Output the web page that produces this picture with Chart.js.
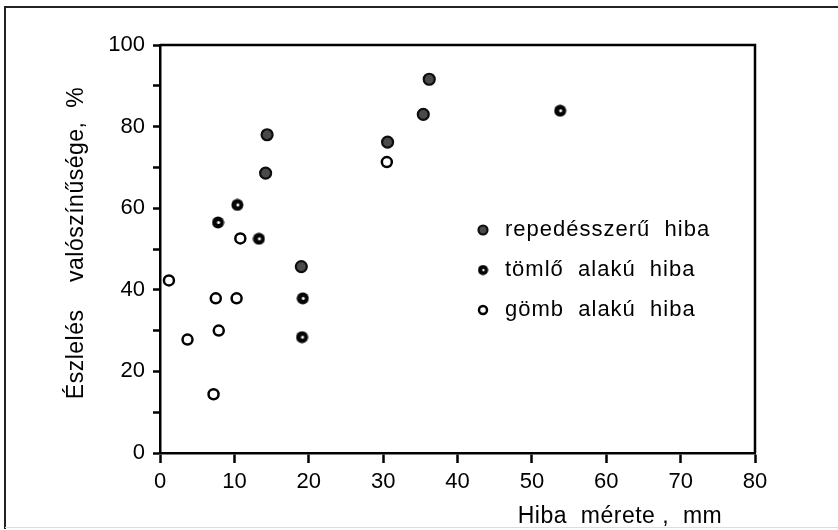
<!DOCTYPE html>
<html>
<head>
<meta charset="utf-8">
<script src="https://cdn.jsdelivr.net/npm/chart.js@4.4.1/dist/chart.umd.min.js"></script>
<style>
  html, body { margin: 0; padding: 0; background: #ffffff; }
  #wrap { width: 838px; height: 530px; position: relative; }
</style>
</head>
<body>
<div id="wrap"><canvas id="c" width="838" height="530"></canvas></div>
<script>
// ---- data ----
const seriesNames = ['repedésszerű  hiba', 'tömlő  alakú  hiba', 'gömb  alakú  hiba'];
const crackX  = [14.2, 14.4, 19.0, 30.6, 35.4, 36.2];
const crackY  = [68.6, 78.0, 45.7, 76.2, 83.0, 91.6];
const tubeX   = [7.8, 10.4, 13.3, 19.2, 19.1, 53.8];
const tubeY   = [56.5, 60.8, 52.5, 37.9, 28.4, 83.9];
const sphereX = [1.2, 3.7, 7.2, 7.5, 7.9, 10.3, 10.8, 30.5];
const sphereY = [42.3, 27.8, 14.4, 37.9, 30.0, 37.9, 52.6, 71.3];
const xTickValues = [0, 10, 20, 30, 40, 50, 60, 70, 80];
const yLabelValues = [0, 20, 40, 60, 80, 100];
const xTitle = 'Hiba  mérete ,  mm';
const yTitle = 'Észlelés    valószínűsége,  %';

function pts(xs, ys) { return xs.map((x, i) => ({ x: x, y: ys[i] })); }

const FONT = '"Liberation Sans", "DejaVu Sans", sans-serif';
const INK = '#000000';

function makeTubeMarker() {
  const c = document.createElement('canvas');
  c.width = 13; c.height = 13;
  const g = c.getContext('2d');
  g.fillStyle = '#050505';
  g.beginPath(); g.arc(6.5, 6.5, 6, 0, Math.PI * 2); g.fill();
  g.fillStyle = '#ffffff';
  g.beginPath(); g.arc(7, 6.5, 1.5, 0, Math.PI * 2); g.fill();
  return c;
}
const tubeMarker = makeTubeMarker();

const styles = [
  { pointStyle: 'circle', radius: 5.5, bg: '#4a4a4a', border: '#0d0d0d', bw: 2.2 },
  { pointStyle: tubeMarker, radius: 6.5, bg: '#000', border: '#000', bw: 0 },
  { pointStyle: 'circle', radius: 5, bg: '#ffffff', border: '#000000', bw: 2.5 }
];
const seriesData = [pts(crackX, crackY), pts(tubeX, tubeY), pts(sphereX, sphereY)];

const datasets = seriesNames.map((name, i) => ({
  label: name,
  data: seriesData[i],
  pointStyle: styles[i].pointStyle,
  pointRadius: styles[i].radius,
  pointHoverRadius: styles[i].radius,
  pointBackgroundColor: styles[i].bg,
  pointBorderColor: styles[i].border,
  pointBorderWidth: styles[i].bw,
  showLine: false
}));

const decor = {
  id: 'decor',
  afterDraw(chart) {
    const ctx = chart.ctx;
    const a = chart.chartArea;
    ctx.save();
    // plot box (top & right sides)
    ctx.strokeStyle = '#000';
    ctx.lineWidth = 2.5;
    ctx.beginPath();
    ctx.moveTo(a.left, a.top); ctx.lineTo(a.right, a.top); ctx.lineTo(a.right, a.bottom);
    ctx.stroke();
    // outer frame
    ctx.strokeStyle = '#222';
    ctx.lineWidth = 2;
    ctx.beginPath();
    ctx.moveTo(5, 529); ctx.lineTo(5, 7); ctx.lineTo(838, 7);
    ctx.stroke();
    ctx.strokeStyle = '#dddddd';
    ctx.lineWidth = 1;
    ctx.beginPath(); ctx.moveTo(5, 527.5); ctx.lineTo(838, 527.5); ctx.stroke();

    // axis titles
    ctx.fillStyle = INK;
    ctx.font = '23px ' + FONT;
    ctx.letterSpacing = '0.5px';
    ctx.textBaseline = 'middle';
    ctx.textAlign = 'center';
    ctx.fillText(xTitle, a.left + 460, 517);
    ctx.save();
    ctx.translate(77, (a.top + a.bottom) / 2 - 6);
    ctx.rotate(-Math.PI / 2);
    ctx.fillText(yTitle, 0, 0);
    ctx.restore();

    // legend inside the plot
    ctx.font = '22px ' + FONT;
    ctx.letterSpacing = '1px';
    ctx.textAlign = 'left';
    const lx = a.left + 323, tx = a.left + 345;
    chart.data.datasets.forEach((ds, i) => {
      const y = a.top + 185 + i * 40;
      const st = styles[i];
      if (typeof st.pointStyle === 'string') {
        ctx.beginPath();
        ctx.arc(lx, y, st.radius - 1, 0, Math.PI * 2);
        ctx.fillStyle = st.bg; ctx.fill();
        ctx.lineWidth = st.bw; ctx.strokeStyle = st.border; ctx.stroke();
      } else {
        ctx.drawImage(st.pointStyle, lx - 5.5, y - 5.5, 11, 11);
      }
      ctx.fillStyle = INK;
      ctx.fillText(ds.label, tx, y);
    });
    ctx.restore();
  }
};

new Chart(document.getElementById('c'), {
  type: 'scatter',
  data: { datasets: datasets },
  options: {
    responsive: false,
    animation: false,
    devicePixelRatio: 1,
    layout: { padding: { left: 0, top: 45, right: 83, bottom: 0 } },
    plugins: { legend: { display: false }, tooltip: { enabled: false } },
    scales: {
      x: {
        type: 'linear', min: 0, max: 80,
        afterFit(s) { s.height = 77; },
        afterBuildTicks(s) { s.ticks = xTickValues.map(v => ({ value: v })); },
        ticks: { color: INK, font: { family: FONT, size: 22 }, padding: 6, maxRotation: 0 },
        grid: { drawOnChartArea: false, drawTicks: true, tickLength: 10, tickWidth: 2.5, tickColor: '#000', color: '#000' },
        border: { display: true, color: '#000', width: 2.5 }
      },
      y: {
        type: 'linear', min: 0, max: 100,
        afterFit(s) { s.width = 160; },
        ticks: {
          stepSize: 10, color: INK, font: { family: FONT, size: 22 }, padding: 8,
          callback: v => (yLabelValues.includes(v) ? String(v) : '')
        },
        grid: { drawOnChartArea: false, drawTicks: true, tickLength: 7, tickWidth: 2.5, tickColor: '#000', color: '#000' },
        border: { display: true, color: '#000', width: 2.5 }
      }
    }
  },
  plugins: [decor]
});
</script>
</body>
</html>
